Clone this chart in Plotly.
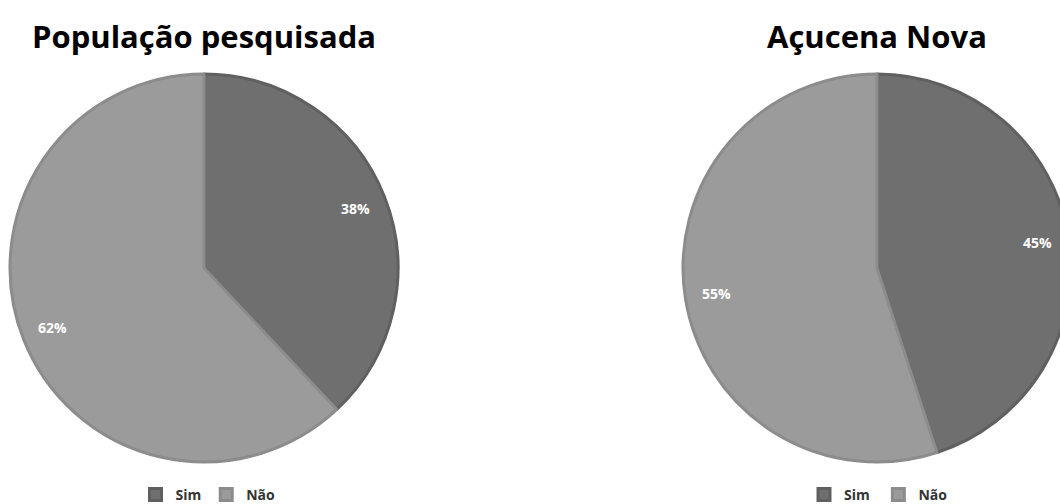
import math
import plotly.graph_objects as go

categories = ["Sim", "Não"]
populacao_pesquisada = [38, 62]
acucena_nova = [45, 55]
titles = ["População pesquisada", "Açucena Nova"]

slice_colors = ["#6f6f6f", "#9b9b9b"]
edge_colors = ["#606060", "#8c8c8c"]

W, H = 1072, 504
FONT = "Open Sans"

# pie placement in pixels (centre x, centre y from top, radius)
pies = [
    dict(values=populacao_pesquisada, cx=204, cy=268, r=194, legend="legend"),
    dict(values=acucena_nova, cx=877, cy=268, r=194, legend="legend2"),
]

fig = go.Figure()
annotations = []

for i, p in enumerate(pies):
    cx, cy, r = p["cx"], p["cy"], p["r"]
    # a space-suffixed label keeps the second legend separate from the first
    labels = [c + (" " * i) for c in categories]
    fig.add_trace(go.Pie(
        labels=labels,
        values=p["values"],
        sort=False,
        direction="clockwise",
        rotation=0,
        textinfo="none",
        marker=dict(colors=slice_colors, line=dict(color=edge_colors, width=3)),
        hoverinfo="label+percent",
        domain=dict(x=[(cx - r) / W, (cx + r) / W],
                    y=[(H - cy - r) / H, (H - cy + r) / H]),
        legend=p["legend"],
    ))

    # percentage labels on each slice's bisector, near the rim
    total = sum(p["values"])
    start = 0.0
    for v in p["values"]:
        frac = v / total
        mid = (start + frac / 2) * 2 * math.pi
        start += frac
        rr = 0.84 * r
        px = cx + rr * math.sin(mid)
        py = cy - rr * math.cos(mid)
        annotations.append(dict(
            text=f"{round(100 * frac)}%", x=px / W, y=1 - py / H,
            xref="paper", yref="paper", showarrow=False,
            xanchor="center", yanchor="middle",
            font=dict(family=FONT, size=14, color="white", weight="bold"),
        ))

    annotations.append(dict(
        text=titles[i], x=cx / W, y=1 - 36 / H, xref="paper", yref="paper",
        showarrow=False, xanchor="center", yanchor="middle",
        font=dict(family=FONT, size=31, color="black", weight="bold"),
    ))

legend_common = dict(
    orientation="h",
    xanchor="center",
    yanchor="middle",
    y=9 / H,
    font=dict(family=FONT, size=14, color="#333333", weight="bold"),
    itemwidth=30,
    tracegroupgap=0,
    bgcolor="rgba(0,0,0,0)",
)

fig.update_layout(
    width=W,
    height=H,
    margin=dict(l=0, r=0, t=0, b=0, autoexpand=False),
    paper_bgcolor="white",
    plot_bgcolor="white",
    legend=dict(x=208 / W, **legend_common),
    legend2=dict(x=880 / W, **legend_common),
    annotations=annotations,
)

fig.write_html(
    "out.html",
    post_script="document.documentElement.style.overflow='hidden';document.body.style.overflow='hidden';document.body.style.margin='0';",
)
